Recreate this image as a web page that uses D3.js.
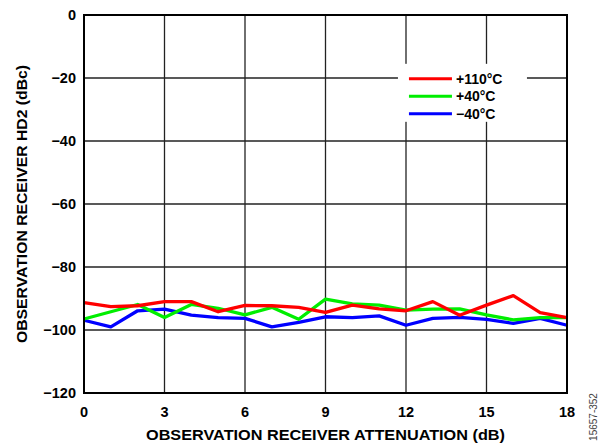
<!DOCTYPE html>
<html>
<head>
<meta charset="utf-8">
<script src="https://cdn.jsdelivr.net/npm/d3@7"></script>
<style>
  body { margin: 0; background: #fff; }
  svg { display: block; font-family: "Liberation Sans", Arial, sans-serif; }
</style>
</head>
<body>
<svg id="chart" width="600" height="445"></svg>
<script>
const atten = d3.range(0, 19);
const hd2_110 = [-91.3, -92.6, -92.3, -91.0, -91.0, -94.2, -92.2, -92.3, -92.8, -94.4,
                 -92.1, -93.3, -93.9, -91.0, -95.3, -92.1, -89.1, -94.5, -96.1];
const hd2_40  = [-96.5, -94.2, -91.9, -96.0, -91.9, -93.1, -95.2, -92.8, -96.6, -90.2,
                 -91.7, -92.1, -93.7, -93.4, -93.3, -95.2, -96.8, -96.1, -96.1];
const hd2_m40 = [-96.9, -99.0, -93.9, -93.4, -95.3, -96.1, -96.3, -99.0, -97.6, -95.8,
                 -96.1, -95.5, -98.5, -96.3, -96.0, -96.6, -97.9, -96.3, -98.5];
const xTicks = [0, 3, 6, 9, 12, 15, 18];
const yTicks = [0, -20, -40, -60, -80, -100, -120];
const series = [
  { name: "+110°C", color: "#ff0000", values: hd2_110 },
  { name: "+40°C",  color: "#00ee00", values: hd2_40 },
  { name: "\u221240°C", color: "#0000ff", values: hd2_m40 }
];

const svg = d3.select("#chart");
const M = { left: 84, right: 33, top: 15, bottom: 52 };
const W = 600 - M.left - M.right;
const H = 445 - M.top - M.bottom;

const x = d3.scaleLinear().domain([0, 18]).range([0, W]);
const y = d3.scaleLinear().domain([-120, 0]).range([H, 0]);
const fmt = d => d < 0 ? "\u2212" + Math.abs(d) : String(d);

const g = svg.append("g").attr("transform", `translate(${M.left},${M.top})`);

// grid
g.append("g").selectAll("line.v")
  .data(xTicks.slice(1, -1))
  .join("line")
  .attr("x1", d => x(d)).attr("x2", d => x(d))
  .attr("y1", 0).attr("y2", H)
  .attr("stroke", "#222").attr("stroke-width", 1.3);
g.append("g").selectAll("line.h")
  .data(yTicks.slice(1, -1))
  .join("line")
  .attr("x1", 0).attr("x2", W)
  .attr("y1", d => y(d)).attr("y2", d => y(d))
  .attr("stroke", "#222").attr("stroke-width", 1.3);

// tick labels
g.append("g").selectAll("text")
  .data(yTicks)
  .join("text")
  .attr("x", -8).attr("y", d => y(d))
  .attr("dy", "0.36em")
  .attr("text-anchor", "end")
  .style("font-size", "14.5px").style("font-weight", "bold")
  .text(fmt);
g.append("g").selectAll("text")
  .data(xTicks)
  .join("text")
  .attr("x", d => x(d)).attr("y", H + 24)
  .attr("text-anchor", "middle")
  .style("font-size", "14.5px").style("font-weight", "bold")
  .text(fmt);

// series
const line = d3.line()
  .x((d, i) => x(atten[i]))
  .y(d => y(d));

series.slice().reverse().forEach(s => {
  g.append("path")
    .datum(s.values)
    .attr("fill", "none")
    .attr("stroke", s.color)
    .attr("stroke-width", 3.3)
    .attr("stroke-linejoin", "round")
    .attr("d", line);
});

// legend
const lg = g.append("g").attr("transform", `translate(${x(11.7)},${y(-15.5)})`);
lg.append("rect")
  .attr("x", 0).attr("y", 0).attr("width", 129).attr("height", 58)
  .attr("fill", "#fff");
series.forEach((s, i) => {
  const ly = 15 + i * 17.5;
  lg.append("line")
    .attr("x1", 11).attr("x2", 54).attr("y1", ly).attr("y2", ly)
    .attr("stroke", s.color).attr("stroke-width", 3);
  lg.append("text")
    .attr("x", 58).attr("y", ly).attr("dy", "0.36em")
    .style("font-size", "14px").style("font-weight", "bold")
    .text(s.name);
});

// frame
g.append("rect")
  .attr("x", 0).attr("y", 0).attr("width", W).attr("height", H)
  .attr("fill", "none").attr("stroke", "#000").attr("stroke-width", 2);

// axis titles
svg.append("text")
  .attr("x", M.left + W / 2).attr("y", 440)
  .attr("text-anchor", "middle")
  .attr("textLength", 359).attr("lengthAdjust", "spacingAndGlyphs")
  .style("font-size", "15px").style("font-weight", "bold")
  .text("OBSERVATION RECEIVER ATTENUATION (dB)");
svg.append("text")
  .attr("transform", `translate(27,${M.top + H / 2}) rotate(-90)`)
  .attr("text-anchor", "middle")
  .attr("textLength", 278).attr("lengthAdjust", "spacingAndGlyphs")
  .style("font-size", "15px").style("font-weight", "bold")
  .text("OBSERVATION RECEIVER HD2 (dBc)");

svg.append("text")
  .attr("transform", "translate(597,417) rotate(-90)")
  .attr("text-anchor", "middle")
  .style("font-size", "10px").attr("fill", "#444")
  .text("15657-352");
</script>
</body>
</html>
